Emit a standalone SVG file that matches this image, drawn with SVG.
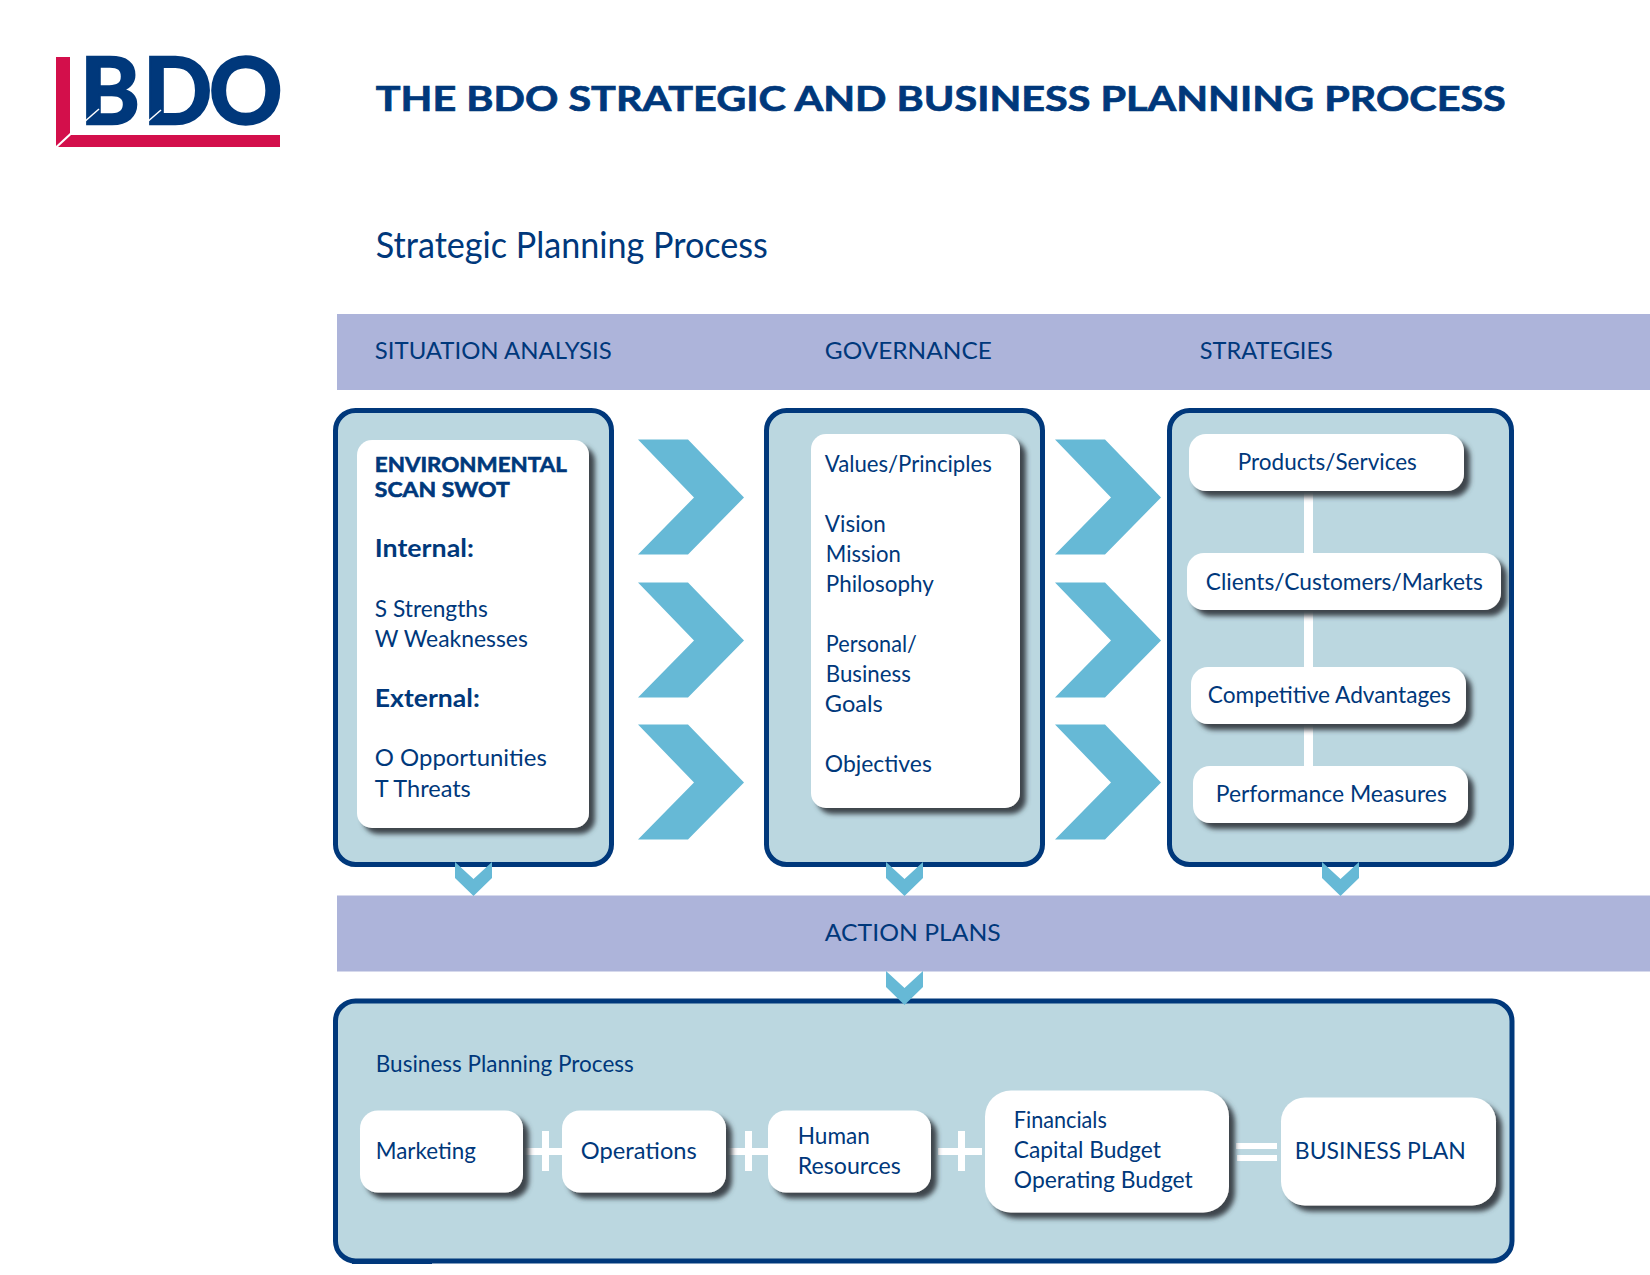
<svg xmlns="http://www.w3.org/2000/svg" width="1650" height="1275" viewBox="0 0 1650 1275">
<style>
text{font-family:"Lato","Liberation Sans",sans-serif;fill:#00387b;font-size:24px;font-weight:400;transform:translate(-.2px,.7px)}
.title{font-size:35px;font-weight:700;stroke:#00387b;stroke-width:.7}
.sub{font-size:36px}
.b{font-weight:700;font-size:21px;stroke:#00387b;stroke-width:.6}
.h{font-weight:700}
.logo{font-size:91px;font-weight:700;stroke:#00387b;stroke-width:2.4;transform:none}
.panel{fill:#bbd7e0;stroke:#00387b;stroke-width:5}
.band{fill:#adb4da}
.card{fill:#fff;filter:url(#sh)}
.chev{fill:#66b9d6}
.link{fill:#fff}
</style>
<defs>
<filter id="sh" x="-10%" y="-10%" width="125%" height="130%">
<feDropShadow dx="6" dy="6" stdDeviation="2.6" flood-color="#3c454b"/>
</filter>
<polygon id="right" class="chev" points="0,0 50,0 106,58 50,115 0,115 56,58"/>
<polygon id="down" class="chev" points="0,0 18.5,17 37,0 37,16 18.5,34 0,16"/>
</defs>
<rect width="1650" height="1275" fill="#fff"/>

<g id="logo">
<polygon points="56,57 70,57 70,133 56,146" fill="#d30f4b"/>
<polygon points="71,135 280,135 280,147 58,147" fill="#d30f4b"/>
<text class="logo" x="80 143 209" y="124" textLength="202">BDO</text>
<line x1="83" y1="123" x2="99" y2="109" stroke="#fff" stroke-width="1.5"/>
<line x1="146" y1="123" x2="161" y2="110" stroke="#fff" stroke-width="1.5"/>
</g>

<g id="heading">
<text class="title" x="376" y="110" textLength="1130" lengthAdjust="spacingAndGlyphs">THE BDO STRATEGIC AND BUSINESS PLANNING PROCESS</text>
<text class="sub" x="376" y="257" textLength="392" lengthAdjust="spacingAndGlyphs">Strategic Planning Process</text>
</g>

<g id="band-top">
<rect class="band" x="337" y="314" width="1313" height="76"/>
<text x="375" y="358" textLength="237" lengthAdjust="spacingAndGlyphs">SITUATION ANALYSIS</text>
<text x="825" y="358" textLength="167" lengthAdjust="spacingAndGlyphs">GOVERNANCE</text>
<text x="1200" y="358" textLength="133" lengthAdjust="spacingAndGlyphs">STRATEGIES</text>
</g>

<g id="band-action">
<rect class="band" x="337" y="895.5" width="1313" height="76"/>
<text x="825" y="940" textLength="176" lengthAdjust="spacingAndGlyphs">ACTION PLANS</text>
</g>

<g id="panel-situation"><rect class="panel" x="335.5" y="410.5" width="276" height="454" rx="20"/></g>
<g id="panel-governance"><rect class="panel" x="766.5" y="410.5" width="276" height="454" rx="20"/></g>
<g id="panel-strategies"><rect class="panel" x="1169.5" y="410.5" width="342" height="454" rx="20"/></g>
<g id="panel-business"><rect class="panel" x="335.5" y="1001" width="1176.5" height="260" rx="20"/><rect x="352" y="1262" width="80" height="2" fill="#00387b"/></g>

<g id="connectors">
<use href="#right" x="638" y="439.5"/>
<use href="#right" x="638" y="582.5"/>
<use href="#right" x="638" y="724.5"/>
<use href="#right" x="1055" y="439.5"/>
<use href="#right" x="1055" y="582.5"/>
<use href="#right" x="1055" y="724.5"/>
<use href="#down" x="455" y="862"/>
<use href="#down" x="886" y="862"/>
<use href="#down" x="1322" y="862"/>
<use href="#down" x="886" y="971"/>
<rect class="link" x="1304" y="485" width="9" height="285"/>
<rect class="link" x="524" y="1148" width="40" height="7"/>
<rect class="link" x="542" y="1131" width="7" height="40"/>
<rect class="link" x="726" y="1148" width="44" height="7"/>
<rect class="link" x="745" y="1131" width="7" height="40"/>
<rect class="link" x="938" y="1148" width="44" height="7"/>
<rect class="link" x="958" y="1131" width="7" height="40"/>
<rect class="link" x="1236" y="1143" width="41" height="6"/>
<rect class="link" x="1237" y="1155" width="40" height="6"/>
</g>

<g id="card-swot">
<rect class="card" x="357" y="440" width="232" height="388" rx="15"/>
<text class="b" x="375" y="471" textLength="192" lengthAdjust="spacingAndGlyphs">ENVIRONMENTAL</text>
<text class="b" x="375" y="496" textLength="135" lengthAdjust="spacingAndGlyphs">SCAN SWOT</text>
<text class="h" x="375" y="556" textLength="99" lengthAdjust="spacingAndGlyphs">Internal:</text>
<text x="375" y="616" textLength="113" lengthAdjust="spacingAndGlyphs">S Strengths</text>
<text x="375" y="646" textLength="153" lengthAdjust="spacingAndGlyphs">W Weaknesses</text>
<text class="h" x="375" y="706" textLength="105" lengthAdjust="spacingAndGlyphs">External:</text>
<text x="375" y="765" textLength="172" lengthAdjust="spacingAndGlyphs">O Opportunities</text>
<text x="375" y="796" textLength="96" lengthAdjust="spacingAndGlyphs">T Threats</text>
</g>

<g id="card-governance">
<rect class="card" x="811" y="434" width="209" height="374" rx="15"/>
<text x="825" y="471" textLength="167" lengthAdjust="spacingAndGlyphs">Values/Principles</text>
<text x="825" y="531" textLength="61" lengthAdjust="spacingAndGlyphs">Vision</text>
<text x="826" y="561" textLength="75" lengthAdjust="spacingAndGlyphs">Mission</text>
<text x="826" y="591" textLength="108" lengthAdjust="spacingAndGlyphs">Philosophy</text>
<text x="826" y="651" textLength="91" lengthAdjust="spacingAndGlyphs">Personal/</text>
<text x="826" y="681" textLength="85" lengthAdjust="spacingAndGlyphs">Business</text>
<text x="825" y="711" textLength="58" lengthAdjust="spacingAndGlyphs">Goals</text>
<text x="825" y="771" textLength="107" lengthAdjust="spacingAndGlyphs">Objectives</text>
</g>

<g id="card-products">
<rect class="card" x="1189" y="434" width="275" height="57" rx="17"/>
<text x="1238" y="469" textLength="179" lengthAdjust="spacingAndGlyphs">Products/Services</text>
</g>
<g id="card-clients">
<rect class="card" x="1187" y="553" width="314" height="57" rx="17"/>
<text x="1206" y="589" textLength="277" lengthAdjust="spacingAndGlyphs">Clients/Customers/Markets</text>
</g>
<g id="card-competitive">
<rect class="card" x="1191" y="667" width="275" height="57" rx="17"/>
<text x="1208" y="702" textLength="243" lengthAdjust="spacingAndGlyphs">Competitive Advantages</text>
</g>
<g id="card-performance">
<rect class="card" x="1193" y="766" width="275" height="57" rx="17"/>
<text x="1216" y="801" textLength="231" lengthAdjust="spacingAndGlyphs">Performance Measures</text>
</g>

<g id="business-label">
<text x="376" y="1071" textLength="258" lengthAdjust="spacingAndGlyphs">Business Planning Process</text>
</g>
<g id="card-marketing">
<rect class="card" x="360" y="1110.5" width="163" height="82" rx="18"/>
<text x="376" y="1158" textLength="100" lengthAdjust="spacingAndGlyphs">Marketing</text>
</g>
<g id="card-operations">
<rect class="card" x="562" y="1110.5" width="164" height="82" rx="18"/>
<text x="581" y="1158" textLength="116" lengthAdjust="spacingAndGlyphs">Operations</text>
</g>
<g id="card-human">
<rect class="card" x="768" y="1110.5" width="163" height="82" rx="18"/>
<text x="798" y="1143" textLength="72" lengthAdjust="spacingAndGlyphs">Human</text>
<text x="798" y="1173" textLength="103" lengthAdjust="spacingAndGlyphs">Resources</text>
</g>
<g id="card-financials">
<rect class="card" x="985" y="1090.5" width="244" height="122" rx="26"/>
<text x="1014" y="1127.5" textLength="93" lengthAdjust="spacingAndGlyphs">Financials</text>
<text x="1014" y="1157.5" textLength="147" lengthAdjust="spacingAndGlyphs">Capital Budget</text>
<text x="1014" y="1187.5" textLength="179" lengthAdjust="spacingAndGlyphs">Operating Budget</text>
</g>
<g id="card-plan">
<rect class="card" x="1281" y="1097.5" width="215" height="108" rx="24"/>
<text x="1295" y="1158" textLength="171" lengthAdjust="spacingAndGlyphs">BUSINESS PLAN</text>
</g>
</svg>
